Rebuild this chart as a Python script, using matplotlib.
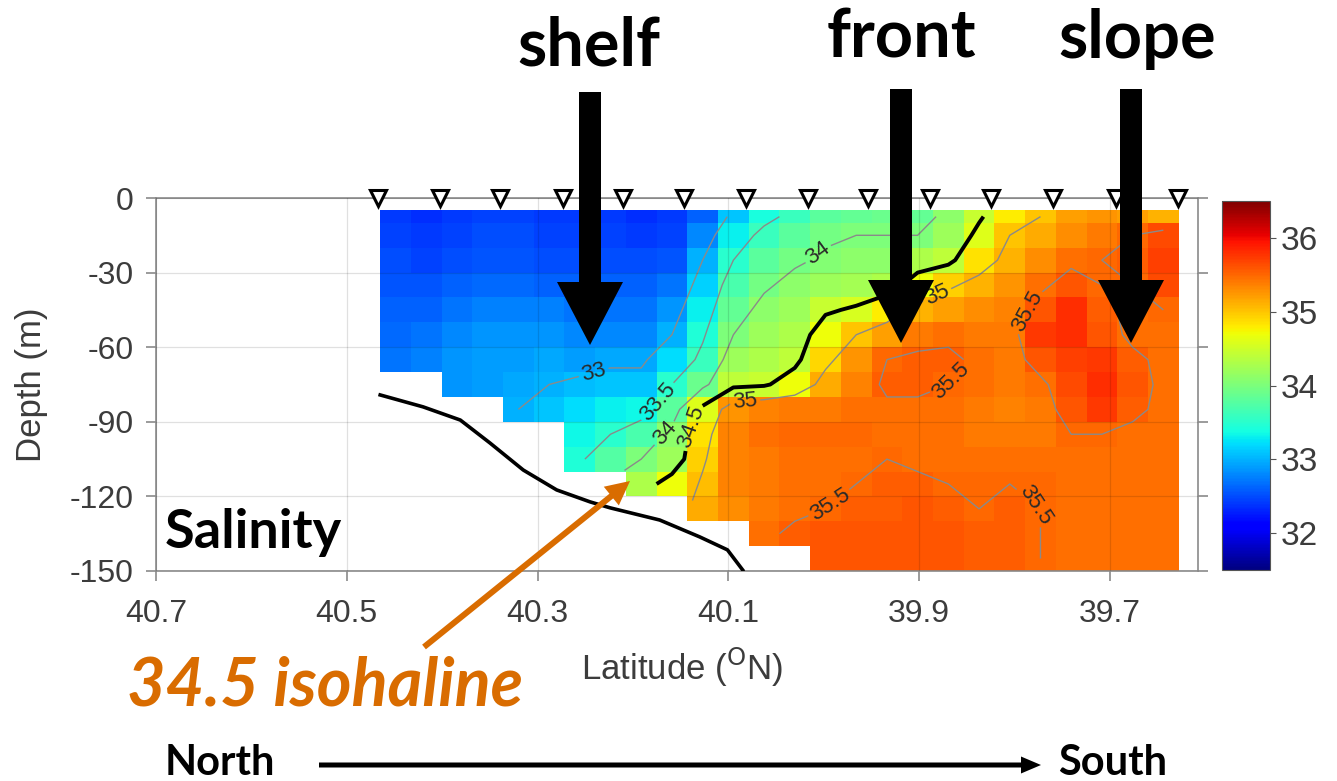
import numpy as np
import matplotlib
matplotlib.use("Agg")
import matplotlib.pyplot as plt
from matplotlib import patches


# Section data
GRID_LAT_NORTH = 40.465
GRID_LAT_SOUTH = 39.628
DEPTH_EDGES = [5, 10, 20, 30, 40, 50, 60, 70, 80, 90, 100, 110, 120, 130, 140, 150]

# salinity per grid column (north -> south), top -> bottom.
# a shorter column means the sea floor cuts it off there
SALINITY_COLUMNS = [
    [32.4, 32.45, 32.5, 32.55, 32.6, 32.65, 32.7],
    [32.35, 32.4, 32.45, 32.55, 32.6, 32.7, 32.75],
    [32.4, 32.45, 32.5, 32.6, 32.7, 32.8, 32.85, 32.85],
    [32.45, 32.5, 32.55, 32.65, 32.75, 32.85, 32.9, 32.9],
    [32.45, 32.5, 32.55, 32.65, 32.75, 32.85, 32.9, 32.95, 33.0],
    [32.4, 32.45, 32.5, 32.6, 32.75, 32.85, 32.95, 33.0, 33.1],
    [32.4, 32.45, 32.5, 32.6, 32.7, 32.8, 32.9, 33.05, 33.2, 33.35, 33.45],
    [32.4, 32.45, 32.5, 32.6, 32.7, 32.8, 32.95, 33.1, 33.3, 33.5, 33.75],
    [32.35, 32.4, 32.5, 32.6, 32.7, 32.8, 32.95, 33.1, 33.35, 33.7, 34.0, 34.3],
    [32.4, 32.45, 32.55, 32.7, 32.85, 33.0, 33.2, 33.5, 33.8, 34.1, 34.2, 34.7],
    [32.6, 32.8, 33.0, 33.15, 33.3, 33.45, 33.6, 33.9, 34.6, 34.85, 34.95, 35.05, 35.15],
    [33.1, 33.3, 33.5, 33.7, 33.85, 34.0, 34.2, 34.4, 35.25, 35.35, 35.35, 35.35, 35.3],
    [33.4, 33.6, 33.8, 33.95, 34.1, 34.2, 34.3, 34.45, 35.35, 35.45, 35.4, 35.4, 35.4, 35.45],
    [33.6, 33.8, 33.95, 34.1, 34.2, 34.3, 34.4, 34.7, 35.4, 35.5, 35.45, 35.45, 35.45, 35.55],
    [33.8, 33.95, 34.05, 34.2, 34.45, 34.7, 34.9, 35.15, 35.4, 35.5, 35.45, 35.45, 35.5, 35.6, 35.6],
    [33.85, 34.0, 34.1, 34.25, 34.55, 35.0, 35.25, 35.35, 35.45, 35.5, 35.45, 35.5, 35.55, 35.6, 35.6],
    [33.9, 34.0, 34.1, 34.3, 34.8, 35.2, 35.5, 35.55, 35.45, 35.45, 35.5, 35.55, 35.55, 35.6, 35.6],
    [33.85, 34.0, 34.3, 34.7, 35.1, 35.4, 35.55, 35.55, 35.45, 35.45, 35.45, 35.55, 35.6, 35.6, 35.6],
    [34.1, 34.2, 34.4, 34.95, 35.2, 35.45, 35.55, 35.5, 35.45, 35.45, 35.45, 35.5, 35.55, 35.6, 35.6],
    [34.45, 34.6, 34.85, 35.1, 35.3, 35.4, 35.45, 35.45, 35.4, 35.4, 35.45, 35.5, 35.5, 35.55, 35.55],
    [34.8, 35.0, 35.1, 35.25, 35.35, 35.4, 35.4, 35.4, 35.35, 35.4, 35.45, 35.5, 35.55, 35.55, 35.55],
    [35.0, 35.15, 35.3, 35.45, 35.6, 35.75, 35.6, 35.45, 35.4, 35.4, 35.45, 35.5, 35.5, 35.5, 35.5],
    [35.2, 35.3, 35.45, 35.6, 35.8, 35.8, 35.7, 35.65, 35.6, 35.5, 35.45, 35.45, 35.45, 35.45, 35.45],
    [35.25, 35.4, 35.5, 35.5, 35.55, 35.6, 35.75, 35.8, 35.75, 35.5, 35.45, 35.45, 35.45, 35.45, 35.45],
    [35.2, 35.5, 35.55, 35.5, 35.45, 35.45, 35.55, 35.6, 35.55, 35.45, 35.45, 35.45, 35.45, 35.45, 35.45],
    [35.1, 35.65, 35.7, 35.65, 35.5, 35.45, 35.45, 35.45, 35.45, 35.45, 35.45, 35.45, 35.45, 35.45, 35.45],
]

CONTOUR_LEVELS = [33, 33.5, 34, 35, 35.5]
ISOHALINE = 34.5

# where the contour labels sit (lat, depth)
LABEL_SPOTS = [(40.24, -72), (40.18, -80), (40.16, -97), (39.99, -30),
               (40.08, -95), (39.88, -40), (39.99, -125), (39.86, -75),
               (39.79, -45), (39.76, -115)]
ISO_LABEL_SPOTS = [(40.14, -92)]

STATION_LAT = [40.467, 40.402, 40.339, 40.273, 40.210, 40.147, 40.082,
               40.017, 39.954, 39.889, 39.825, 39.760, 39.694, 39.629]

BATHY_LAT = [40.465, 40.420, 40.381, 40.350, 40.315, 40.280, 40.245,
             40.224, 40.172, 40.130, 40.101, 40.085]
BATHY_DEPTH = [-79.2, -84.0, -89.3, -98.5, -109.4, -117.4, -122.2,
               -124.6, -129.5, -136.3, -141.5, -149.6]

XTICKS = [40.7, 40.5, 40.3, 40.1, 39.9, 39.7]
YTICKS = [0, -30, -60, -90, -120, -150]
CBAR_TICKS = [32, 33, 34, 35, 36]

# Style
W, H = 1337, 781
TICK_COLOR = "#3c3c3c"
ORANGE = "#D96C00"
TICK_FONT = "Liberation Sans"
NOTE_FONT = "Lato"


def fig_box(x0, y0, x1, y1):
    # pixel box (top-left origin) -> figure fraction rect
    return [x0 / W, 1 - y1 / H, (x1 - x0) / W, (y1 - y0) / H]


plt.rcParams["font.family"] = [TICK_FONT, "DejaVu Sans"]
plt.rcParams["axes.unicode_minus"] = False

fig = plt.figure(figsize=(W / 100, H / 100), dpi=100)
ax = fig.add_axes(fig_box(156, 198, 1198, 571))
cax = fig.add_axes(fig_box(1222, 201, 1270, 570))

# build the gridded field from the column profiles
n_cols = len(SALINITY_COLUMNS)
n_rows = len(DEPTH_EDGES) - 1
sal = np.full((n_rows, n_cols), np.nan)
for j, col in enumerate(SALINITY_COLUMNS):
    sal[:len(col), j] = col
sal = np.ma.masked_invalid(sal)

lat_edges = np.linspace(GRID_LAT_NORTH, GRID_LAT_SOUTH, n_cols + 1)
z_edges = -np.array(DEPTH_EDGES, dtype=float)
lat_c = (lat_edges[:-1] + lat_edges[1:]) / 2
z_c = (z_edges[:-1] + z_edges[1:]) / 2

mesh = ax.pcolormesh(lat_edges, z_edges, sal, cmap="jet", vmin=31.5, vmax=36.5,
                     shading="flat", zorder=1)

ax.set_xlim(40.7, 40.7 - (1198 - 156) / 954)
ax.set_ylim(-150, 0)

cs = ax.contour(lat_c, z_c, sal, levels=CONTOUR_LEVELS, colors="#8a8a8a",
                linewidths=1.0, zorder=2)
ax.clabel(cs, fmt="%g", fontsize=16, colors="#2a2a2a", inline_spacing=3,
          manual=LABEL_SPOTS)
cs_iso = ax.contour(lat_c, z_c, sal, levels=[ISOHALINE], colors="black",
                    linewidths=2.8, zorder=3)
ax.clabel(cs_iso, fmt="%g", fontsize=16, colors="#2a2a2a", inline_spacing=3,
          manual=ISO_LABEL_SPOTS)

ax.plot(BATHY_LAT, BATHY_DEPTH, color="black", lw=2.6, zorder=3)
ax.plot(STATION_LAT, np.zeros(len(STATION_LAT)), "v", ms=11, mfc="white",
        mec="black", mew=2.2, clip_on=False, zorder=6)

ax.set_xticks(XTICKS)
ax.set_xticklabels([f"{v:.1f}" for v in XTICKS])
ax.set_yticks(YTICKS)
ax.grid(True, color="black", alpha=0.12, lw=0.9, zorder=4)
ax.set_axisbelow(False)

ax.tick_params(axis="both", direction="out", length=7, width=1.2, color="#8a8a8a",
               labelsize=23, labelcolor=TICK_COLOR)
ax.tick_params(axis="y", right=True, pad=9)
ax.tick_params(axis="x", pad=13)
for side in ax.spines.values():
    side.set_color("#8a8a8a")
    side.set_linewidth(1.2)

ax.set_xlabel("Latitude ($^{\\rm O}$N)", fontsize=25, color=TICK_COLOR)
ax.xaxis.set_label_coords(0.505, -0.2)
ax.set_ylabel("Depth (m)", fontsize=25, color=TICK_COLOR)
ax.yaxis.set_label_coords(-0.104, 0.5)

cb = fig.colorbar(mesh, cax=cax, ticks=CBAR_TICKS)
cb.outline.set_edgecolor("#555555")
cb.ax.tick_params(labelsize=24, labelcolor=TICK_COLOR, length=4, color="#555555")

# annotation layer in pixel coordinates
ov = fig.add_axes([0, 0, 1, 1], zorder=10)
ov.set_xlim(0, W)
ov.set_ylim(H, 0)
ov.axis("off")
ov.patch.set_alpha(0)

big_arrows = [(590, 92, 345), (901, 89, 343), (1131, 89, 343)]
for x, y0, y1 in big_arrows:
    ov.add_patch(patches.FancyArrow(x, y0, 0, y1 - y0, width=22, head_width=66,
                                    head_length=63, length_includes_head=True,
                                    color="black", lw=0))

ov.add_patch(patches.FancyArrow(424, 647, 206, -166, width=6, head_width=24,
                                head_length=24, length_includes_head=True,
                                color=ORANGE, lw=0))
ov.add_patch(patches.FancyArrow(319, 765, 722, 0, width=5, head_width=17,
                                head_length=20, length_includes_head=True,
                                color="black", lw=0))

note = dict(family=NOTE_FONT, weight="bold", color="black", va="baseline")
ov.text(589, 66, "shelf", ha="center", fontsize=48, **note)
ov.text(901, 58, "front", ha="center", fontsize=48, **note)
ov.text(1137, 58, "slope", ha="center", fontsize=48, **note)
ov.text(165, 548, "Salinity", ha="left", fontsize=39, **note)
ov.text(165, 775, "North", ha="left", fontsize=30, **note)
ov.text(1058, 775, "South", ha="left", fontsize=30, **note)
ov.text(127, 705, "34.5 isohaline", ha="left", fontsize=48, family=NOTE_FONT,
        weight="bold", style="italic", color=ORANGE, va="baseline")

fig.savefig("out.png", dpi=100)
